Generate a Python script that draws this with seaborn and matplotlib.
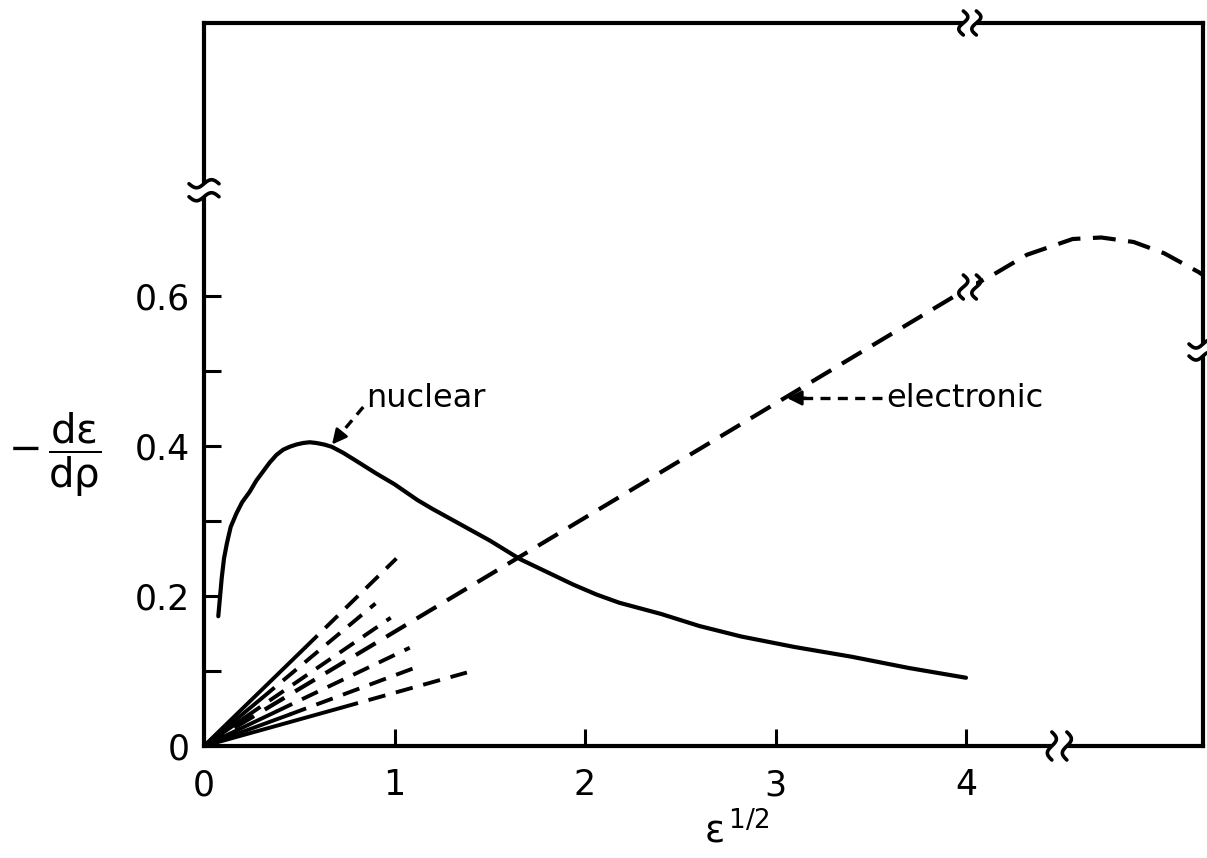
import numpy as np
import pandas as pd
import matplotlib
matplotlib.use("Agg")
import matplotlib.pyplot as plt
import matplotlib.transforms as mtransforms
from matplotlib.patches import Rectangle
import seaborn as sns

# ---- data -------------------------------------------------------------
nuclear_x = [0.075, 0.093, 0.105, 0.12, 0.14, 0.17, 0.20, 0.24, 0.275, 0.31,
             0.345, 0.38, 0.415, 0.45, 0.485, 0.52, 0.555, 0.59, 0.63, 0.67,
             0.73, 0.80, 0.90, 1.00, 1.12, 1.20, 1.30, 1.40, 1.50, 1.66,
             1.80, 1.94, 2.06, 2.18, 2.40, 2.60, 2.82, 3.10, 3.40, 3.70, 4.00]
nuclear_y = [0.173, 0.224, 0.250, 0.270, 0.292, 0.310, 0.325, 0.339, 0.354,
             0.366, 0.378, 0.388, 0.395, 0.399, 0.402, 0.404, 0.405, 0.404,
             0.402, 0.399, 0.391, 0.380, 0.364, 0.349, 0.328, 0.316, 0.302,
             0.288, 0.274, 0.249, 0.232, 0.215, 0.202, 0.191, 0.176, 0.160,
             0.146, 0.132, 0.119, 0.104, 0.091]

electronic_x = [0.0, 4.02, 4.14, 4.32, 4.56, 4.71, 4.88, 5.04, 5.22, 5.244]
electronic_y = [0.0, 0.612, 0.628, 0.655, 0.676, 0.678, 0.672, 0.657, 0.632, 0.628]

# low-energy straight lines through the origin: solid up to the knee, dashed beyond
fan_knee_x = [0.53, 0.30, 0.22, 0.38, 0.45, 0.72]
fan_knee_y = [0.131, 0.063, 0.039, 0.046, 0.042, 0.051]
fan_end_x = [1.01, 0.90, 0.98, 1.08, 1.125, 1.38]
fan_end_y = [0.250, 0.190, 0.171, 0.131, 0.106, 0.098]

x_ticks = [0, 1, 2, 3, 4]
y_ticks = [0.0, 0.1, 0.2, 0.3, 0.4, 0.5, 0.6]
y_tick_labels = ["0", "", "0.2", "", "0.4", "", "0.6"]

x_lim = (0, 5.244)
y_lim = (0, 0.964)

# axis / curve break positions
left_break_y = 0.741
right_break_y = 0.528
top_break_x = 4.02
bottom_break_x = 4.49
curve_break = (4.02, 0.612)

# ---- figure -----------------------------------------------------------
sns.set_theme(style="white")
plt.rcParams["font.family"] = ["DejaVu Sans"]
plt.rcParams["mathtext.fontset"] = "dejavusans"
plt.rcParams["text.color"] = "black"

fig = plt.figure(figsize=(12.07, 8.58), dpi=100)
ax = fig.add_axes([204 / 1207, 112 / 858, 999 / 1207, 723 / 858])

nuc = pd.DataFrame({"x": nuclear_x, "y": nuclear_y})
ele = pd.DataFrame({"x": electronic_x, "y": electronic_y})

sns.lineplot(data=nuc, x="x", y="y", ax=ax, color="black", lw=3.0,
             sort=False, estimator=None)
sns.lineplot(data=ele, x="x", y="y", ax=ax, color="black", lw=3.0,
             sort=False, estimator=None, dashes=False)
ax.lines[-1].set_dashes([5.5, 3.0])

for kx, ky, ex, ey in zip(fan_knee_x, fan_knee_y, fan_end_x, fan_end_y):
    solid = pd.DataFrame({"x": [0.0, kx], "y": [0.0, ky]})
    dashed = pd.DataFrame({"x": [kx, ex], "y": [ky, ey]})
    sns.lineplot(data=solid, x="x", y="y", ax=ax, color="black", lw=2.8,
                 sort=False, estimator=None)
    sns.lineplot(data=dashed, x="x", y="y", ax=ax, color="black", lw=2.8,
                 sort=False, estimator=None)
    ax.lines[-1].set_dashes([4.5, 2.8])

ax.set_xlim(*x_lim)
ax.set_ylim(*y_lim)
ax.set_xticks(x_ticks)
ax.set_xticklabels([str(t) for t in x_ticks])
ax.set_yticks(y_ticks)
ax.set_yticklabels(y_tick_labels)
ax.set_xlabel("")
ax.set_ylabel("")
ax.tick_params(axis="x", direction="in", length=12, width=2.2, pad=16,
               labelsize=25, colors="black", bottom=True, top=False)
ax.tick_params(axis="y", direction="in", length=12, width=2.2, pad=10,
               labelsize=25, colors="black", left=True, right=False)
for sp in ax.spines.values():
    sp.set_visible(True)
    sp.set_linewidth(3.0)
    sp.set_color("black")

# ---- annotations --------------------------------------------------------
ax.text(0.85, 0.452, "nuclear", fontsize=23, ha="left", va="baseline",
        color="black")
ax.plot([0.836, 0.70], [0.452, 0.411], color="black", lw=2.4, dashes=[3, 2.2])
ax.annotate("", xy=(0.672, 0.402), xytext=(0.72, 0.417),
            arrowprops=dict(arrowstyle="-|>", color="black", lw=2.0,
                            mutation_scale=22, shrinkA=0, shrinkB=0))

ax.text(3.58, 0.452, "electronic", fontsize=23, ha="left", va="baseline",
        color="black")
ax.plot([3.56, 3.13], [0.464, 0.464], color="black", lw=2.4, dashes=[3, 2.2])
ax.annotate("", xy=(3.06, 0.464), xytext=(3.16, 0.464),
            arrowprops=dict(arrowstyle="-|>", color="black", lw=2.0,
                            mutation_scale=22, shrinkA=0, shrinkB=0))

fig.text(737 / 1207, 1 - 832 / 858, "ε$^{\\,1/2}$", fontsize=27,
         ha="center", va="center", color="black")
fig.text(55 / 1207, 1 - 455 / 858,
         r"$-\,\dfrac{\mathrm{d}\mathrm{\varepsilon}}{\mathrm{d}\mathrm{\rho}}$",
         fontsize=29, ha="center", va="center", color="black")


# ---- break marks ----------------------------------------------------------
def break_mark(x, y, orient, length, sep, amp, gap_len):
    """Two wavy strokes with a white gap between them (sizes in pixels)."""
    trans = (mtransforms.Affine2D().scale(1 / 100.0) + fig.dpi_scale_trans
             + mtransforms.ScaledTranslation(x, y, ax.transData))
    t = np.linspace(-1, 1, 60)
    along = t * length / 2
    wave = amp * np.sin(np.pi * t)
    if orient == "v":
        rect = Rectangle((-sep / 2, -gap_len / 2), sep, gap_len,
                         transform=trans, facecolor="white", edgecolor="none",
                         zorder=5, clip_on=False)
    else:
        rect = Rectangle((-gap_len / 2, -sep / 2), gap_len, sep,
                         transform=trans, facecolor="white", edgecolor="none",
                         zorder=5, clip_on=False)
    ax.add_patch(rect)
    for off in (-sep / 2, sep / 2):
        if orient == "v":
            xs, ys = wave + off, along
        else:
            xs, ys = along, wave + off
        ax.plot(xs, ys, transform=trans, color="black", lw=2.6,
                solid_capstyle="round", zorder=6, clip_on=False)


break_mark(0, left_break_y, "h", 30, 13, 4.0, 12)
break_mark(x_lim[1], right_break_y, "h", 28, 12, 4.0, 12)
break_mark(top_break_x, y_lim[1], "v", 24, 13, 4.5, 12)
break_mark(bottom_break_x, 0, "v", 28, 15, 4.5, 12)
break_mark(curve_break[0], curve_break[1], "v", 24, 13, 4.5, 14)

fig.savefig("out.png", dpi=100, facecolor="white")
